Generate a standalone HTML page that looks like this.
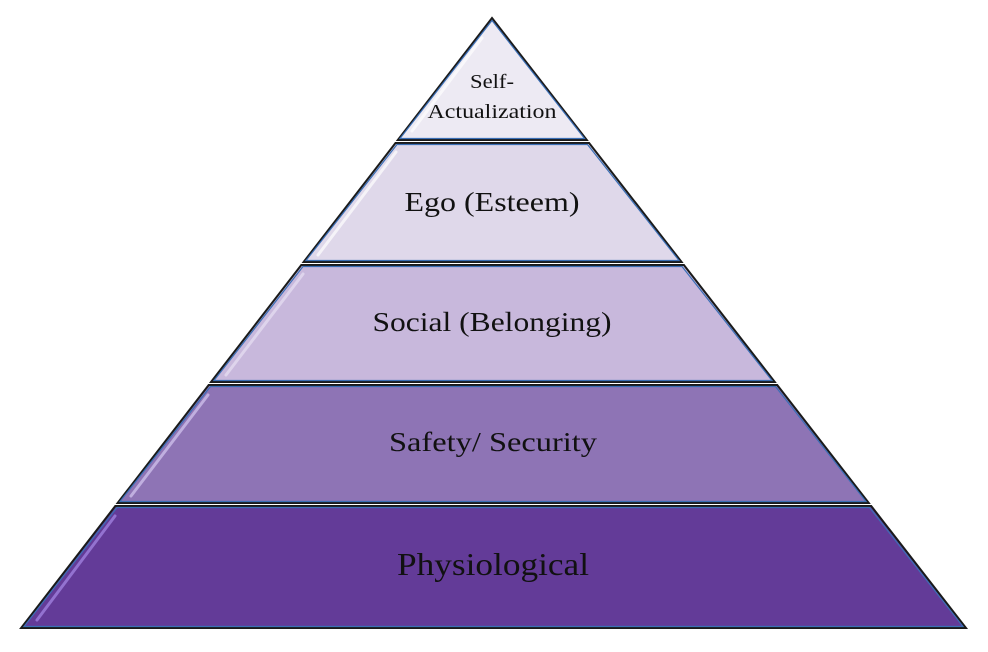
<!DOCTYPE html>
<html><head><style>body{margin:0;background:#fff}svg{display:block}</style></head><body>
<svg width="988" height="652" viewBox="0 0 988 652" xmlns="http://www.w3.org/2000/svg" font-family="'Liberation Serif',serif" text-anchor="middle">
<g stroke="#1a1a1a" stroke-width="2" stroke-linejoin="miter">
<polygon points="492,18 586.8,140 397.8,140" fill="#EDEAF3"/>
<polygon points="395.5,143 589.1,143 681.6,262 303.6,262" fill="#DFD8EA"/>
<polygon points="301.3,265 683.9,265 774.8,382 211,382" fill="#C8B8DC"/>
<polygon points="208.7,385 777.2,385 868.8,503 117.6,503" fill="#8E74B5"/>
<polygon points="115.3,506 871.2,506 966,628 21.1,628" fill="#633B98"/>
</g>
<g stroke="#3b6fb5" stroke-width="1.2" fill="none">
<polygon points="492,20.5 584.5,138.5 400,138.5"/>
<polygon points="397,144.5 587.5,144.5 679,260.5 306,260.5"/>
<polygon points="303,266.5 682,266.5 772,380.5 214,380.5"/>
<polygon points="210.5,386.5 775.5,386.5 866,501.5 120,501.5"/>
<polygon points="117,507.5 869.5,507.5 963,626.5 24,626.5"/>
</g>
<g stroke-width="3" stroke-linecap="round" opacity="0.7">
<line x1="412" y1="131" x2="482" y2="38" stroke="#fff"/>
<line x1="318" y1="255" x2="396" y2="152" stroke="#fff"/>
<line x1="226" y1="375" x2="303" y2="274" stroke="#e8e0f4"/>
<line x1="131" y1="496" x2="208" y2="395" stroke="#d6c8f2"/>
<line x1="37" y1="620" x2="115" y2="516" stroke="#a88ae8"/>
</g>
<g fill="#111">
<text x="492" y="88" font-size="20" textLength="44" lengthAdjust="spacingAndGlyphs">Self-</text>
<text x="492" y="118" font-size="20" textLength="129" lengthAdjust="spacingAndGlyphs">Actualization</text>
<text x="492" y="211" font-size="27" textLength="175" lengthAdjust="spacingAndGlyphs">Ego (Esteem)</text>
<text x="492" y="331" font-size="27" textLength="239" lengthAdjust="spacingAndGlyphs">Social (Belonging)</text>
<text x="493" y="451" font-size="27" textLength="208" lengthAdjust="spacingAndGlyphs">Safety/ Security</text>
<text x="493" y="575" font-size="32" textLength="192" lengthAdjust="spacingAndGlyphs">Physiological</text>
</g>
</svg>
</body></html>
